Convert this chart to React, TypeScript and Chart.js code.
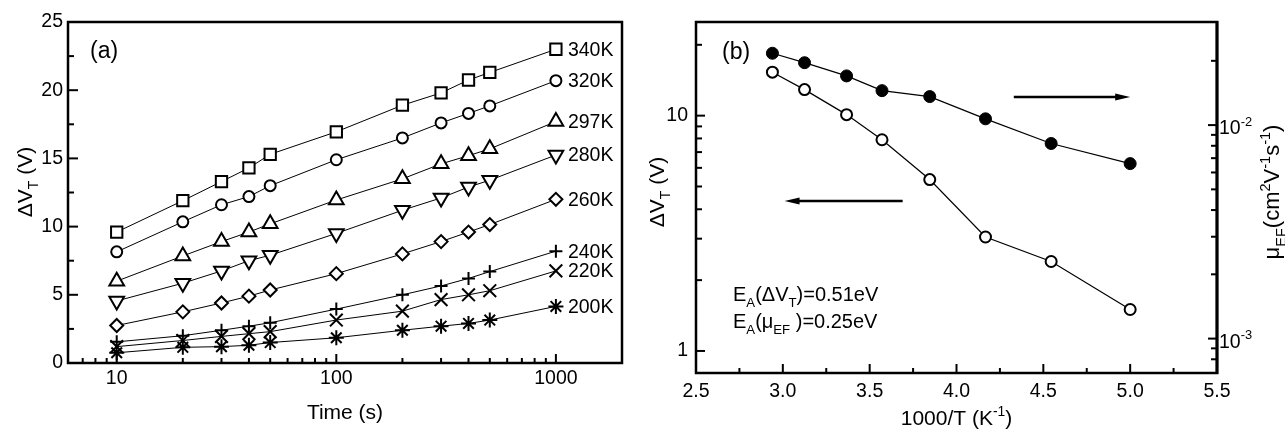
import React, { useEffect, useRef } from 'react';
import { Chart, registerables } from 'chart.js';
Chart.register(...registerables);

const FONT = '"Liberation Sans", Arial, Helvetica, sans-serif';

// ---------- Panel (a) data ----------
const times = [10, 20, 30, 40, 50, 100, 200, 300, 400, 500, 1000];
const seriesLabels = ['340K', '320K', '297K', '280K', '260K', '240K', '220K', '200K'];
const dv340K = [9.6, 11.9, 13.3, 14.3, 15.3, 16.95, 18.9, 19.8, 20.75, 21.3, 23.0];
const dv320K = [8.15, 10.35, 11.6, 12.2, 13.0, 14.9, 16.5, 17.6, 18.3, 18.85, 20.7];
const dv297K = [6.0, 7.85, 8.9, 9.6, 10.2, 11.95, 13.5, 14.6, 15.2, 15.7, 17.7];
const dv280K = [4.55, 5.85, 6.75, 7.5, 7.9, 9.5, 11.2, 12.1, 12.9, 13.4, 15.25];
const dv260K = [2.75, 3.75, 4.4, 4.9, 5.35, 6.55, 8.0, 8.9, 9.6, 10.15, 12.0];
const dv240K = [1.55, 2.0, 2.4, 2.7, 2.95, 3.95, 5.0, 5.65, 6.2, 6.7, 8.2];
const dv220K = [1.2, 1.65, 1.95, 2.15, 2.3, 3.15, 3.8, 4.65, 5.0, 5.3, 6.75];
const dv200K = [0.75, 1.15, 1.2, 1.3, 1.5, 1.85, 2.4, 2.7, 2.9, 3.15, 4.15];
const seriesValues = [dv340K, dv320K, dv297K, dv280K, dv260K, dv240K, dv220K, dv200K];
const pointStyles = ['rect', 'circle', 'triangle', 'triangle', 'rectRot', 'cross', 'crossRot', 'star'];
const pointRotations = [0, 0, 0, 180, 0, 0, 0, 0];
const pointRadii = [8, 5.5, 8.5, 8.5, 6.5, 6.5, 9, 7.5];

const aXMajor = [10, 100, 1000];
const aXMinor = [7, 8, 9, 20, 30, 40, 50, 60, 70, 80, 90, 200, 300, 400, 500, 600, 700, 800, 900];
const aYMajor = [0, 5, 10, 15, 20, 25];
const aYMinor = [2.5, 7.5, 12.5, 17.5, 22.5];

// ---------- Panel (b) data ----------
const invT = [2.94, 3.125, 3.367, 3.571, 3.846, 4.167, 4.545, 5.0];
const dvT = [15.3, 12.9, 10.1, 7.9, 5.35, 3.05, 2.4, 1.5];
const muEF = [0.0217, 0.0196, 0.017, 0.0145, 0.0136, 0.0107, 0.0082, 0.0066];

const bXMajor = [2.5, 3.0, 3.5, 4.0, 4.5, 5.0, 5.5];
const bXMinor = [2.75, 3.25, 3.75, 4.25, 4.75, 5.25];
const bYMajor = [1, 10];
const bYMinor = [2, 3, 4, 5, 6, 7, 8, 9, 20];
const bY1Major = [0.001, 0.01];
const bY1Minor = [0.0008, 0.0009, 0.002, 0.003, 0.004, 0.005, 0.006, 0.007, 0.008, 0.009, 0.02, 0.03];
const bY1Labels = ['-3', '-2'];

// arrows in data coordinates (1000/T, ΔV_T)
const arrowLeft = { from: [3.69, 4.34], to: [3.01, 4.34] };
const arrowRight = { from: [4.33, 12.0], to: [5.0, 12.0] };

type Part = [string, 'n' | 'sub' | 'sup'];

function setFont(ctx: CanvasRenderingContext2D, kind: string, size: number) {
  const s = kind === 'n' ? size : size * 0.66;
  ctx.font = `${s}px ${FONT}`;
}

function drawRich(ctx: CanvasRenderingContext2D, parts: Part[], x: number, y: number, size: number, align: 'left' | 'center') {
  let w = 0;
  for (const [t, k] of parts) {
    setFont(ctx, k, size);
    w += ctx.measureText(t).width;
  }
  let cx = align === 'center' ? x - w / 2 : x;
  ctx.textAlign = 'left';
  ctx.textBaseline = 'alphabetic';
  for (const [t, k] of parts) {
    setFont(ctx, k, size);
    const dy = k === 'sub' ? size * 0.3 : k === 'sup' ? -size * 0.42 : 0;
    ctx.fillText(t, cx, y + dy);
    cx += ctx.measureText(t).width;
  }
}

function line(ctx: CanvasRenderingContext2D, x1: number, y1: number, x2: number, y2: number) {
  ctx.beginPath();
  ctx.moveTo(x1, y1);
  ctx.lineTo(x2, y2);
  ctx.stroke();
}

function drawArrow(ctx: CanvasRenderingContext2D, x1: number, y1: number, x2: number, y2: number) {
  const len = 15, hw = 3.5;
  const dir = Math.sign(x2 - x1);
  ctx.lineWidth = 2.5;
  line(ctx, x1, y1, x2 - dir * len * 0.7, y2);
  ctx.beginPath();
  ctx.moveTo(x2, y2);
  ctx.lineTo(x2 - dir * len, y2 - hw);
  ctx.lineTo(x2 - dir * len, y2 + hw);
  ctx.closePath();
  ctx.fill();
}

const tickFont = { family: FONT, size: 19.5 };

function fixedTicks(vals: number[]) {
  return (s: any) => {
    s.ticks = vals.map((v) => ({ value: v }));
  };
}

const panelAPlugin = {
  id: 'panelA',
  afterDraw(chart: any) {
    const { ctx, chartArea: ca, scales } = chart;
    const x = scales.x, y = scales.y;
    ctx.save();
    ctx.strokeStyle = '#000';
    ctx.fillStyle = '#000';
    ctx.lineWidth = 2;
    aYMajor.forEach((v) => { const p = y.getPixelForValue(v); line(ctx, ca.left, p, ca.left + 10, p); });
    aYMinor.forEach((v) => { const p = y.getPixelForValue(v); line(ctx, ca.left, p, ca.left + 6, p); });
    aXMajor.forEach((v) => { const p = x.getPixelForValue(v); line(ctx, p, ca.bottom, p, ca.bottom - 9); });
    aXMinor.forEach((v) => { const p = x.getPixelForValue(v); line(ctx, p, ca.bottom, p, ca.bottom - 5); });
    ctx.lineWidth = 2.5;
    ctx.strokeRect(ca.left, ca.top, ca.right - ca.left, ca.bottom - ca.top);

    // series labels
    ctx.font = `19.5px ${FONT}`;
    ctx.textAlign = 'left';
    ctx.textBaseline = 'middle';
    seriesLabels.forEach((lab, i) => {
      const vals = seriesValues[i];
      const px = x.getPixelForValue(times[times.length - 1]) + 12;
      const py = y.getPixelForValue(vals[vals.length - 1]);
      ctx.fillText(lab, px, py + 1);
    });

    // panel tag
    ctx.font = `23px ${FONT}`;
    ctx.fillText('(a)', ca.left + 22, 52);

    // x title
    ctx.font = `21px ${FONT}`;
    ctx.textAlign = 'center';
    ctx.textBaseline = 'alphabetic';
    ctx.fillText('Time (s)', (ca.left + ca.right) / 2, 419);

    // y title
    ctx.save();
    ctx.translate(32, 182);
    ctx.rotate(-Math.PI / 2);
    drawRich(ctx, [['ΔV', 'n'], ['T', 'sub'], [' (V)', 'n']], 0, 0, 21, 'center');
    ctx.restore();
    ctx.restore();
  },
};

const panelBPlugin = {
  id: 'panelB',
  afterDraw(chart: any) {
    const { ctx, chartArea: ca, scales } = chart;
    const x = scales.x, y = scales.y, y1 = scales.y1;
    ctx.save();
    ctx.strokeStyle = '#000';
    ctx.fillStyle = '#000';
    ctx.lineWidth = 2;
    bYMajor.forEach((v) => { const p = y.getPixelForValue(v); line(ctx, ca.left, p, ca.left + 9, p); });
    bYMinor.forEach((v) => { const p = y.getPixelForValue(v); line(ctx, ca.left, p, ca.left + 6, p); });
    bY1Major.forEach((v) => { const p = y1.getPixelForValue(v); line(ctx, ca.right, p, ca.right - 9, p); });
    bY1Minor.forEach((v) => {
      const p = y1.getPixelForValue(v);
      if (p > ca.top + 2 && p < ca.bottom - 2) line(ctx, ca.right, p, ca.right - 6, p);
    });
    bXMajor.forEach((v) => { const p = x.getPixelForValue(v); line(ctx, p, ca.bottom, p, ca.bottom - 9); });
    bXMinor.forEach((v) => { const p = x.getPixelForValue(v); line(ctx, p, ca.bottom, p, ca.bottom - 5); });
    ctx.lineWidth = 2.5;
    ctx.strokeRect(ca.left, ca.top, ca.right - ca.left, ca.bottom - ca.top);
    ctx.lineWidth = 3;
    line(ctx, ca.right, ca.top - 1, ca.right, ca.bottom + 1);

    // right tick labels 10^-3, 10^-2
    bY1Major.forEach((v, i) => {
      const p = y1.getPixelForValue(v);
      drawRich(ctx, [['10', 'n'], [bY1Labels[i], 'sup']], ca.right + 2, p + 9, 19.5, 'left');
    });

    // arrows
    drawArrow(ctx, x.getPixelForValue(arrowLeft.from[0]), y.getPixelForValue(arrowLeft.from[1]),
      x.getPixelForValue(arrowLeft.to[0]), y.getPixelForValue(arrowLeft.to[1]));
    drawArrow(ctx, x.getPixelForValue(arrowRight.from[0]), y.getPixelForValue(arrowRight.from[1]),
      x.getPixelForValue(arrowRight.to[0]), y.getPixelForValue(arrowRight.to[1]));

    // panel tag
    ctx.font = `23px ${FONT}`;
    ctx.textAlign = 'left';
    ctx.textBaseline = 'middle';
    ctx.fillText('(b)', ca.left + 26, 53);

    // annotations
    drawRich(ctx, [['E', 'n'], ['A', 'sub'], ['(ΔV', 'n'], ['T', 'sub'], [')=0.51eV', 'n']], ca.left + 37, 301, 20, 'left');
    drawRich(ctx, [['E', 'n'], ['A', 'sub'], ['(μ', 'n'], ['EF', 'sub'], [' )=0.25eV', 'n']], ca.left + 37, 328, 20, 'left');

    // x title
    drawRich(ctx, [['1000/T (K', 'n'], ['-1', 'sup'], [')', 'n']], (ca.left + ca.right) / 2, 425, 21, 'center');

    // left y title
    ctx.save();
    ctx.translate(24, 192);
    ctx.rotate(-Math.PI / 2);
    drawRich(ctx, [['ΔV', 'n'], ['T', 'sub'], [' (V)', 'n']], 0, 0, 21, 'center');
    ctx.restore();

    // right y title
    ctx.save();
    ctx.translate(639, 192);
    ctx.rotate(-Math.PI / 2);
    drawRich(ctx, [['μ', 'n'], ['EF', 'sub'], ['(cm', 'n'], ['2', 'sup'], ['V', 'n'], ['-1', 'sup'], ['s', 'n'], ['-1', 'sup'], [')', 'n']], 0, 0, 22, 'center');
    ctx.restore();
    ctx.restore();
  },
};

function makeConfigA(): any {
  return {
    type: 'line',
    data: {
      datasets: seriesValues.map((vals, i) => ({
        label: seriesLabels[i],
        data: times.map((t, j) => ({ x: t, y: vals[j] })),
        borderColor: '#000',
        borderWidth: 1,
        pointStyle: pointStyles[i],
        pointRotation: pointRotations[i],
        pointRadius: pointRadii[i],
        pointBorderWidth: 2,
        pointBorderColor: '#000',
        pointBackgroundColor: '#fff',
        fill: false,
        tension: 0,
      })),
    },
    options: {
      animation: false,
      responsive: false,
      events: [],
      layout: { padding: { left: 0, top: 22, right: 18, bottom: 0 } },
      plugins: { legend: { display: false }, tooltip: { enabled: false } },
      scales: {
        x: {
          type: 'logarithmic',
          min: 6,
          max: 2000,
          grid: { display: false, drawTicks: false },
          border: { display: false },
          afterBuildTicks: fixedTicks(aXMajor),
          afterFit: (s: any) => { s.height = 68; },
          ticks: { font: tickFont, color: '#000', padding: 4, autoSkip: false, maxRotation: 0, callback: (v: any) => String(v) },
        },
        y: {
          type: 'linear',
          min: 0,
          max: 25,
          grid: { display: false, drawTicks: false },
          border: { display: false },
          afterBuildTicks: fixedTicks(aYMajor),
          afterFit: (s: any) => { s.width = 68; },
          ticks: { font: tickFont, color: '#000', padding: 5, callback: (v: any) => String(v) },
        },
      },
    },
    plugins: [panelAPlugin],
  };
}

function makeConfigB(): any {
  return {
    type: 'line',
    data: {
      datasets: [
        {
          label: 'ΔVT',
          yAxisID: 'y',
          data: invT.map((t, j) => ({ x: t, y: dvT[j] })),
          borderColor: '#000',
          borderWidth: 1.2,
          pointStyle: 'circle',
          pointRadius: 5.5,
          pointBorderWidth: 2,
          pointBorderColor: '#000',
          pointBackgroundColor: '#fff',
          fill: false,
          tension: 0,
        },
        {
          label: 'μEF',
          yAxisID: 'y1',
          data: invT.map((t, j) => ({ x: t, y: muEF[j] })),
          borderColor: '#000',
          borderWidth: 1.2,
          pointStyle: 'circle',
          pointRadius: 6,
          pointBorderWidth: 1,
          pointBorderColor: '#000',
          pointBackgroundColor: '#000',
          fill: false,
          tension: 0,
        },
      ],
    },
    options: {
      animation: false,
      responsive: false,
      events: [],
      layout: { padding: { left: 0, top: 22, right: 0, bottom: 0 } },
      plugins: { legend: { display: false }, tooltip: { enabled: false } },
      scales: {
        x: {
          type: 'linear',
          min: 2.5,
          max: 5.5,
          grid: { display: false, drawTicks: false },
          border: { display: false },
          afterBuildTicks: fixedTicks(bXMajor),
          afterFit: (s: any) => { s.height = 58; },
          ticks: { font: tickFont, color: '#000', padding: 7, autoSkip: false, maxRotation: 0, callback: (v: any) => Number(v).toFixed(1) },
        },
        y: {
          type: 'logarithmic',
          position: 'left',
          min: 0.806,
          max: 25,
          grid: { display: false, drawTicks: false },
          border: { display: false },
          afterBuildTicks: fixedTicks(bYMajor),
          afterFit: (s: any) => { s.width = 56; },
          ticks: { font: tickFont, color: '#000', padding: 8, autoSkip: false, callback: (v: any) => String(v) },
        },
        y1: {
          type: 'logarithmic',
          position: 'right',
          min: 0.00069,
          max: 0.0304,
          grid: { display: false, drawTicks: false },
          border: { display: false },
          afterBuildTicks: fixedTicks(bY1Major),
          afterFit: (s: any) => { s.width = 68; },
          ticks: { font: tickFont, color: '#000', autoSkip: false, callback: () => '' },
        },
      },
    },
    plugins: [panelBPlugin],
  };
}

export default function App() {
  const refA = useRef<HTMLCanvasElement>(null);
  const refB = useRef<HTMLCanvasElement>(null);
  useEffect(() => {
    const a = new Chart(refA.current as HTMLCanvasElement, makeConfigA());
    const b = new Chart(refB.current as HTMLCanvasElement, makeConfigB());
    return () => {
      a.destroy();
      b.destroy();
    };
  }, []);
  return (
    <div style={{ position: 'absolute', left: 0, top: 0, width: 1285, height: 431, background: '#fff' }}>
      <canvas ref={refA} width={640} height={431} style={{ position: 'absolute', left: 0, top: 0, width: 640, height: 431 }} />
      <canvas ref={refB} width={645} height={431} style={{ position: 'absolute', left: 640, top: 0, width: 645, height: 431 }} />
    </div>
  );
}
